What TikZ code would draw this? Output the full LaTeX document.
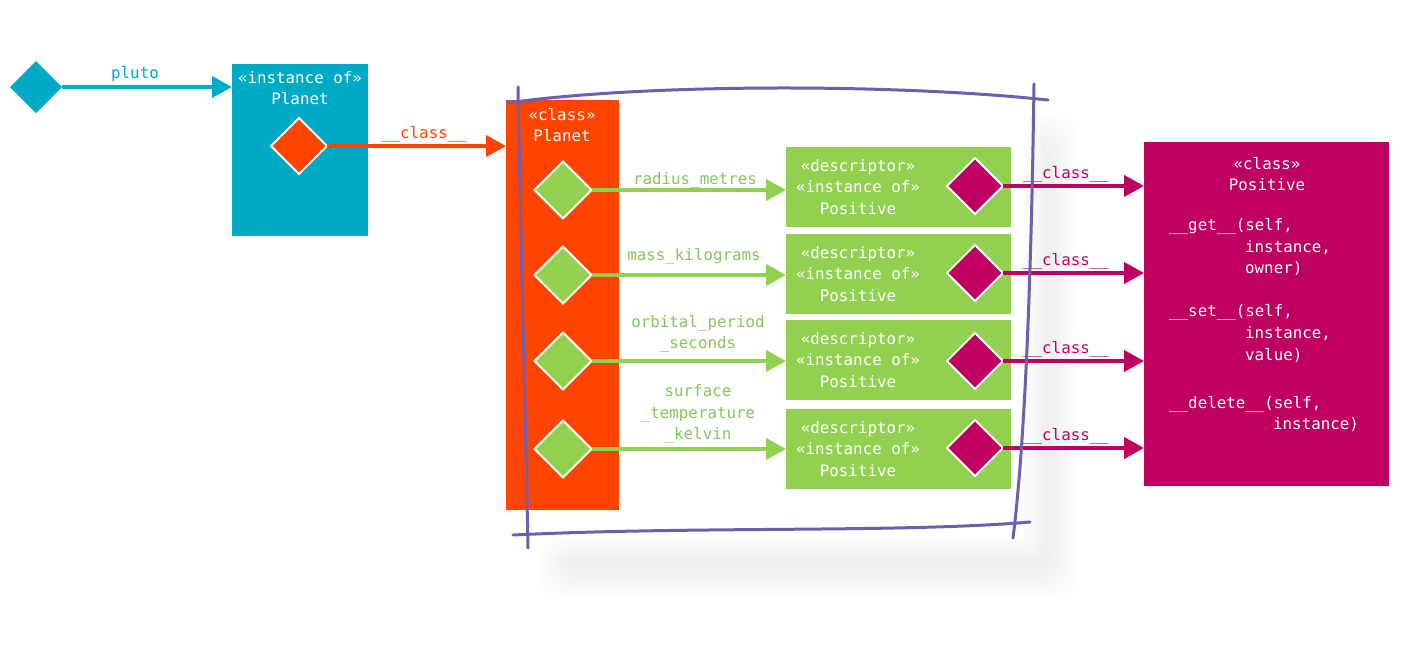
\documentclass[tikz,border=0pt]{standalone}
\usepackage{fontspec}
\newfontfamily\monof{DejaVu Sans Mono}
\usetikzlibrary{shapes.geometric,arrows.meta}
\definecolor{cteal}{HTML}{00AAC7}
\definecolor{corange}{HTML}{FF4400}
\definecolor{cgreen}{HTML}{92D050}
\definecolor{cgreentext}{HTML}{86C55A}
\definecolor{cmag}{HTML}{BF0060}
\definecolor{cpurple}{HTML}{6E5EAD}
\tikzset{
  txt/.style={font=\monof\fontsize{15.8}{21.5}\selectfont, inner sep=0pt, align=center},
  box/.style={draw=none, inner sep=0pt, outer sep=0pt},
  dia/.style={diamond, aspect=1, inner sep=0pt, outer sep=0pt, draw=white, line width=2pt},
  arr/.style={line width=4pt, -{Triangle[length=20pt,width=21pt]}, shorten >=0pt},
  frame/.style={cpurple, line width=3pt, line cap=round},
}
\begin{document}
\begin{tikzpicture}[x=1pt,y=-1pt]
\useasboundingbox (0,0) rectangle (1405,670);
% soft shadow behind the white card
\foreach \i in {0,...,14}{
  \fill[black, opacity=0.005, rounded corners=24pt] (565-2*\i,140-2*\i) rectangle (1052+2*\i,572+2*\i);
}
% white card with soft edge
\foreach \i in {1,...,10}{
  \fill[white, opacity=0.18, rounded corners=10pt] (522-2*\i,94-2*\i) rectangle (1022+2*\i,536+2*\i);
}
\fill[white, rounded corners=8pt] (520,92) rectangle (1024,538);
% teal part
\node[dia, fill=cteal, draw=none, minimum width=52pt, minimum height=52pt] (pd) at (36,87) {};
\node[box, fill=cteal, minimum width=136pt, minimum height=172pt] (inst) at (300,150) {};
\node[txt, white] (instt) at (300,88) {«instance of»\\Planet};
\draw[arr, cteal] (pd.east) -- (pd -| inst.west);
\node[txt, cteal] (plab) at (135,74) {pluto};
% orange part
\node[dia, fill=corange, minimum width=56pt, minimum height=56pt] (od) at (299,146) {};
\node[box, fill=corange, minimum width=113pt, minimum height=410pt] (cls) at (562.5,305) {};
\node[txt, white] (clst) at (562,125) {«class»\\Planet};
\draw[arr, corange] (od.east) -- (od -| cls.west);
\node[txt, corange] (olab) at (424,134) {\_\_class\_\_};
% descriptor boxes
\foreach \n/\y/\dy/\my in {1/187/190/186, 2/274/275/273, 3/360/361/361, 4/449/449/448}{
  \node[box, fill=cgreen, minimum width=225pt, minimum height=80pt] (desc\n) at (898.5,\y) {};
  \node[txt, white] (desct\n) at (858,\y) {«descriptor»\\«instance of»\\Positive};
  \node[dia, fill=cgreen, minimum width=57pt, minimum height=57pt] (gd\n) at (563,\dy) {};
  \node[dia, fill=cmag, minimum width=56pt, minimum height=56pt] (md\n) at (975,\my) {};
}
% Positive class box
\node[box, fill=cmag, minimum width=245pt, minimum height=344pt] (pos) at (1266.5,314) {};
\node[txt, white] (post) at (1267,174) {«class»\\Positive};
\node[txt, white, anchor=west] (g1) at (1169,226) {\_\_get\_\_(self,};
\node[txt, white, anchor=west] (g2) at (1245,248) {instance,};
\node[txt, white, anchor=west] (g3) at (1245,269) {owner)};
\node[txt, white, anchor=west] (s1) at (1169,312) {\_\_set\_\_(self,};
\node[txt, white, anchor=west] (s2) at (1245,334) {instance,};
\node[txt, white, anchor=west] (s3) at (1245,355) {value)};
\node[txt, white, anchor=west] (d1) at (1169,404) {\_\_delete\_\_(self,};
\node[txt, white, anchor=west] (d2) at (1273,425) {instance)};
% arrows
\foreach \n in {1,2,3,4}{
  \draw[arr, cgreen] (gd\n.east) -- (gd\n -| desc\n.west);
  \draw[arr, cmag] (md\n.east) -- (md\n -| pos.west);
}
\node[txt, cgreentext] (l1) at (695,180) {radius\_metres};
\node[txt, cgreentext] (l2) at (694,256) {mass\_kilograms};
\node[txt, cgreentext] (l3) at (698,334) {orbital\_period\\\_seconds};
\node[txt, cgreentext] (l4) at (698,414) {surface\\\_temperature\\\_kelvin};
\node[txt, cmag] (m1) at (1066,174) {\_\_class\_\_};
\node[txt, cmag] (m2) at (1066,261) {\_\_class\_\_};
\node[txt, cmag] (m3) at (1066,349) {\_\_class\_\_};
\node[txt, cmag] (m4) at (1066,436) {\_\_class\_\_};
% sketchy frame
\draw[frame] (507,103) .. controls (650,83) and (900,84) .. (1048,100);
\draw[frame] (518,87) .. controls (521,250) and (525,400) .. (528,548);
\draw[frame] (1034,84) .. controls (1031,300) and (1024,450) .. (1013,538);
\draw[frame] (513,535) .. controls (700,526) and (900,533) .. (1030,522);
\end{tikzpicture}
\end{document}
